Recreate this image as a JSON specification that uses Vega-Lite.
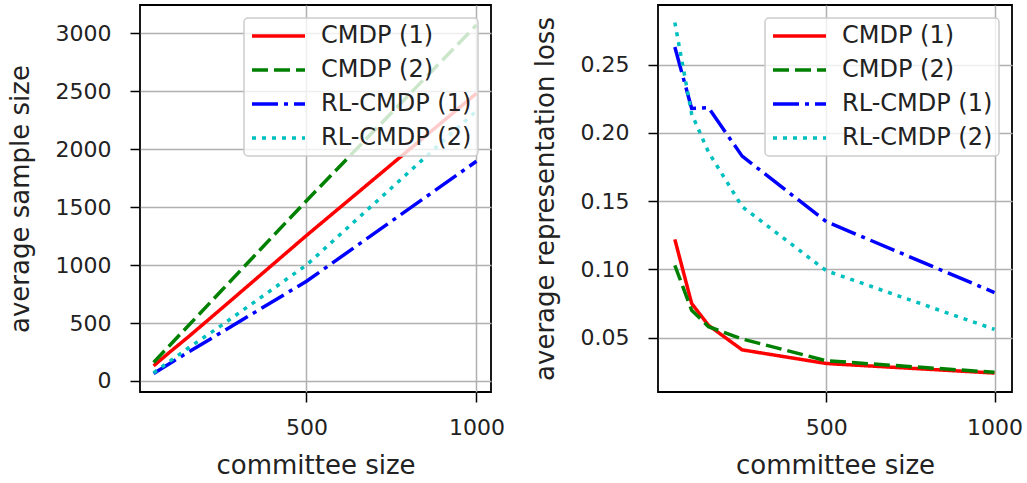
{
  "$schema": "https://vega.github.io/schema/vega-lite/v6.json",
  "padding": {"left": 6, "top": 4, "right": 0, "bottom": 0},
  "spacing": 25,
  "config": {
    "font": "DejaVu Sans",
    "view": {"stroke": "black", "strokeWidth": 1.8},
    "axis": {
      "domain": false, "grid": true, "gridColor": "#b0b0b0", "gridWidth": 1.5,
      "tickColor": "black", "tickWidth": 1.5, "tickSize": 10,
      "labelFontSize": 22, "labelColor": "#222222", "labelFont": "DejaVu Sans",
      "titleFontSize": 26, "titleFontWeight": "normal", "titleColor": "#222222", "titleFont": "DejaVu Sans"
    },
    "axisX": {"labelPadding": 15, "titlePadding": 14},
    "axisY": {"labelPadding": 19, "titlePadding": 22},
    "legend": {
      "orient": "top-right", "offset": 13,
      "fillColor": "rgba(255,255,255,0.8)", "strokeColor": "#cccccc", "strokeWidth": 1.5, "cornerRadius": 4,
      "padding": 6, "labelFontSize": 24, "labelColor": "#222222", "labelFont": "DejaVu Sans",
      "symbolType": "stroke", "symbolSize": 2809, "symbolStrokeWidth": 3.5,
      "clipHeight": 24, "rowPadding": 10, "labelOffset": 14
    }
  },
  "resolve": {
    "scale": {"x": "independent", "y": "independent"},
    "legend": {"color": "independent", "strokeDash": "independent"}
  },
  "datasets": {
    "left": [
      {"series": "CMDP (1)", "x": 50, "y": 130}, {"series": "CMDP (1)", "x": 100, "y": 255}, {"series": "CMDP (1)", "x": 150, "y": 375}, {"series": "CMDP (1)", "x": 250, "y": 625}, {"series": "CMDP (1)", "x": 500, "y": 1255}, {"series": "CMDP (1)", "x": 1000, "y": 2480},
      {"series": "CMDP (2)", "x": 50, "y": 160}, {"series": "CMDP (2)", "x": 100, "y": 315}, {"series": "CMDP (2)", "x": 150, "y": 470}, {"series": "CMDP (2)", "x": 250, "y": 780}, {"series": "CMDP (2)", "x": 500, "y": 1555}, {"series": "CMDP (2)", "x": 1000, "y": 3070},
      {"series": "RL-CMDP (1)", "x": 50, "y": 65}, {"series": "RL-CMDP (1)", "x": 100, "y": 155}, {"series": "RL-CMDP (1)", "x": 150, "y": 245}, {"series": "RL-CMDP (1)", "x": 250, "y": 420}, {"series": "RL-CMDP (1)", "x": 500, "y": 860}, {"series": "RL-CMDP (1)", "x": 1000, "y": 1895},
      {"series": "RL-CMDP (2)", "x": 50, "y": 70}, {"series": "RL-CMDP (2)", "x": 100, "y": 175}, {"series": "RL-CMDP (2)", "x": 150, "y": 280}, {"series": "RL-CMDP (2)", "x": 250, "y": 480}, {"series": "RL-CMDP (2)", "x": 500, "y": 1000}, {"series": "RL-CMDP (2)", "x": 1000, "y": 2330}
    ],
    "right": [
      {"series": "CMDP (1)", "x": 50, "y": 0.122}, {"series": "CMDP (1)", "x": 100, "y": 0.075}, {"series": "CMDP (1)", "x": 150, "y": 0.059}, {"series": "CMDP (1)", "x": 250, "y": 0.041}, {"series": "CMDP (1)", "x": 500, "y": 0.031}, {"series": "CMDP (1)", "x": 1000, "y": 0.024},
      {"series": "CMDP (2)", "x": 50, "y": 0.103}, {"series": "CMDP (2)", "x": 100, "y": 0.070}, {"series": "CMDP (2)", "x": 150, "y": 0.058}, {"series": "CMDP (2)", "x": 250, "y": 0.049}, {"series": "CMDP (2)", "x": 500, "y": 0.033}, {"series": "CMDP (2)", "x": 1000, "y": 0.0245},
      {"series": "RL-CMDP (1)", "x": 50, "y": 0.263}, {"series": "RL-CMDP (1)", "x": 100, "y": 0.218}, {"series": "RL-CMDP (1)", "x": 150, "y": 0.2185}, {"series": "RL-CMDP (1)", "x": 250, "y": 0.183}, {"series": "RL-CMDP (1)", "x": 500, "y": 0.135}, {"series": "RL-CMDP (1)", "x": 1000, "y": 0.083},
      {"series": "RL-CMDP (2)", "x": 50, "y": 0.281}, {"series": "RL-CMDP (2)", "x": 100, "y": 0.214}, {"series": "RL-CMDP (2)", "x": 150, "y": 0.186}, {"series": "RL-CMDP (2)", "x": 250, "y": 0.146}, {"series": "RL-CMDP (2)", "x": 500, "y": 0.099}, {"series": "RL-CMDP (2)", "x": 1000, "y": 0.056}
    ]
  },
  "hconcat": [
    {
      "width": 351, "height": 387,
      "data": {"name": "left"},
      "mark": {"type": "line", "strokeWidth": 3.5, "clip": true},
      "encoding": {
        "x": {"field": "x", "type": "quantitative", "title": "committee size",
              "scale": {"domain": [10, 1043], "nice": false, "zero": false},
              "axis": {"values": [500, 1000], "format": "d"}},
        "y": {"field": "y", "type": "quantitative", "title": "average sample size",
              "scale": {"domain": [-95, 3243], "nice": false, "zero": false},
              "axis": {"values": [0, 500, 1000, 1500, 2000, 2500, 3000], "format": "d"}},
        "color": {"field": "series", "type": "nominal", "legend": {"title": null},
                  "scale": {"domain": ["CMDP (1)", "CMDP (2)", "RL-CMDP (1)", "RL-CMDP (2)"], "range": ["#ff0000", "#008000", "#0000ff", "#00bfbf"]}},
        "strokeDash": {"field": "series", "type": "nominal", "legend": {"title": null},
                  "scale": {"domain": ["CMDP (1)", "CMDP (2)", "RL-CMDP (1)", "RL-CMDP (2)"], "range": [[1, 0], [16, 6], [26, 6, 4, 6], [4, 6]]}}
      }
    },
    {
      "width": 354, "height": 387,
      "data": {"name": "right"},
      "mark": {"type": "line", "strokeWidth": 3.5, "clip": true},
      "encoding": {
        "x": {"field": "x", "type": "quantitative", "title": "committee size",
              "scale": {"domain": [0, 1052], "nice": false, "zero": false},
              "axis": {"values": [500, 1000], "format": "d"}},
        "y": {"field": "y", "type": "quantitative", "title": "average representation loss",
              "scale": {"domain": [0.0101, 0.2938], "nice": false, "zero": false},
              "axis": {"values": [0.05, 0.1, 0.15, 0.2, 0.25], "format": ".2f"}},
        "color": {"field": "series", "type": "nominal", "legend": {"title": null},
                  "scale": {"domain": ["CMDP (1)", "CMDP (2)", "RL-CMDP (1)", "RL-CMDP (2)"], "range": ["#ff0000", "#008000", "#0000ff", "#00bfbf"]}},
        "strokeDash": {"field": "series", "type": "nominal", "legend": {"title": null},
                  "scale": {"domain": ["CMDP (1)", "CMDP (2)", "RL-CMDP (1)", "RL-CMDP (2)"], "range": [[1, 0], [16, 6], [26, 6, 4, 6], [4, 6]]}}
      }
    }
  ]
}
